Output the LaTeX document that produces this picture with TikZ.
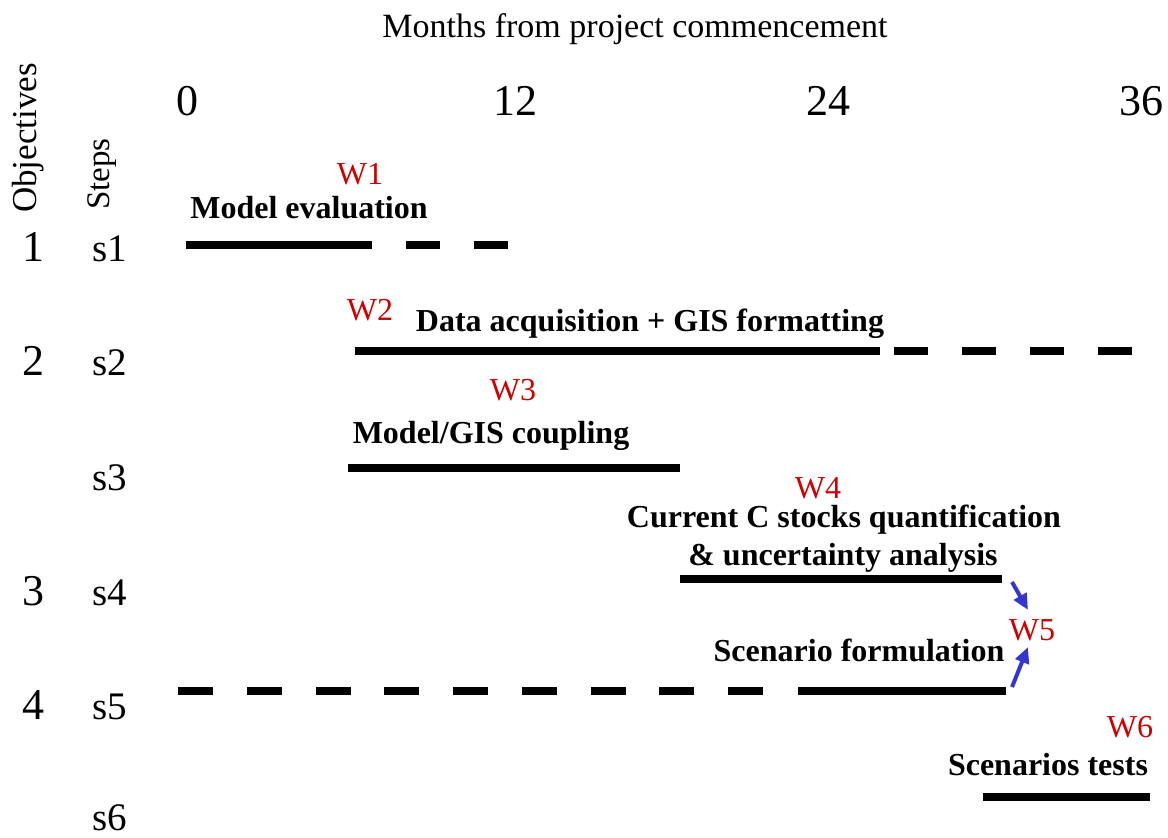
\documentclass[tikz,border=0pt]{standalone}
\usepackage{fontspec}
\setmainfont{Liberation Serif}
\usetikzlibrary{arrows.meta}
\definecolor{wred}{HTML}{D00000}
\definecolor{arrblue}{HTML}{3535D0}
\tikzset{
  bar/.style={line width=8pt, black},
  dashbar/.style={line width=8pt, black, dash pattern=on 34pt off 34pt},
  lbl/.style={font=\fontsize{32}{38}\selectfont\bfseries, inner sep=0pt, anchor=base},
  wlbl/.style={font=\fontsize{32}{38}\selectfont, text=wred, inner sep=0pt, anchor=base},
  axnum/.style={font=\fontsize{44}{50}\selectfont, inner sep=0pt, anchor=base},
  objnum/.style={font=\fontsize{44}{50}\selectfont, inner sep=0pt, anchor=base},
  steplbl/.style={font=\fontsize{39}{44}\selectfont, inner sep=0pt, anchor=base west},
  rothead/.style={font=\fontsize{35}{40}\selectfont, inner sep=0pt, rotate=90, anchor=center},
  warrow/.style={line width=4pt, arrblue, -{Triangle[length=16pt,width=14pt]}}
}
\begin{document}
\begin{tikzpicture}[x=1pt,y=-1pt]
\useasboundingbox (0,0) rectangle (1168,838);
% headings
\node[font=\fontsize{34}{40}\selectfont, inner sep=0pt, anchor=base] (title) at (635,37) {Months from project commencement};
\node[axnum] (m0) at (187,115) {0};
\node[axnum] (m12) at (515,115) {12};
\node[axnum] (m24) at (828,115) {24};
\node[axnum] (m36) at (1141,115) {36};
\node[rothead] (obj) at (28,138) {Objectives};
\node[rothead, font=\fontsize{33}{38}\selectfont] (steps) at (102,174) {Steps};
% objective numbers
\node[objnum] (o1) at (34,261) {1};
\node[objnum] (o2) at (34,375) {2};
\node[objnum] (o3) at (34,605) {3};
\node[objnum] (o4) at (34,719) {4};
% steps
\node[steplbl] (s1) at (92,261) {s1};
\node[steplbl] (s2) at (92,375) {s2};
\node[steplbl] (s3) at (92,490) {s3};
\node[steplbl] (s4) at (92,605) {s4};
\node[steplbl] (s5) at (92,719) {s5};
\node[steplbl] (s6) at (92,830) {s6};
% bars
\draw[bar] (186,245) -- (372,245);
\draw[dashbar] (406,245) -- (510,245);
\draw[bar] (355,350.5) -- (880,350.5);
\draw[dashbar] (894,350.5) -- (1134,350.5);
\draw[bar] (348,468) -- (680,468);
\draw[bar] (680,579) -- (1002,579);
\draw[bar, dash pattern=on 35pt off 33.75pt] (178,691) -- (764,691);
\draw[bar] (798,691) -- (1006,691);
\draw[bar] (983,797) -- (1150,797);
% labels
\node[wlbl] (w1) at (360,184) {W1};
\node[lbl] (l1) at (309,218) {Model evaluation};
\node[wlbl] (w2) at (370,320) {W2};
\node[lbl] (l2) at (650,331) {Data acquisition + GIS formatting};
\node[wlbl] (w3) at (513,400) {W3};
\node[lbl] (l3) at (491,443) {Model/GIS coupling};
\node[wlbl] (w4) at (818,498) {W4};
\node[lbl] (l4a) at (844,527) {Current C stocks quantification};
\node[lbl] (l4b) at (843,565) {\& uncertainty analysis};
\node[wlbl] (w5) at (1032,640) {W5};
\node[lbl] (l5) at (859,661) {Scenario formulation};
\node[wlbl] (w6) at (1130,737) {W6};
\node[lbl] (l6) at (1048,775) {Scenarios tests};
% arrows to W5
\coordinate (a1s) at (1012,582);
\coordinate (a1e) at (1028,610);
\coordinate (a2s) at (1012,687);
\coordinate (a2e) at (1028,647);
\draw[warrow] (a1s) -- (a1e);
\draw[warrow] (a2s) -- (a2e);
\end{tikzpicture}
\end{document}
